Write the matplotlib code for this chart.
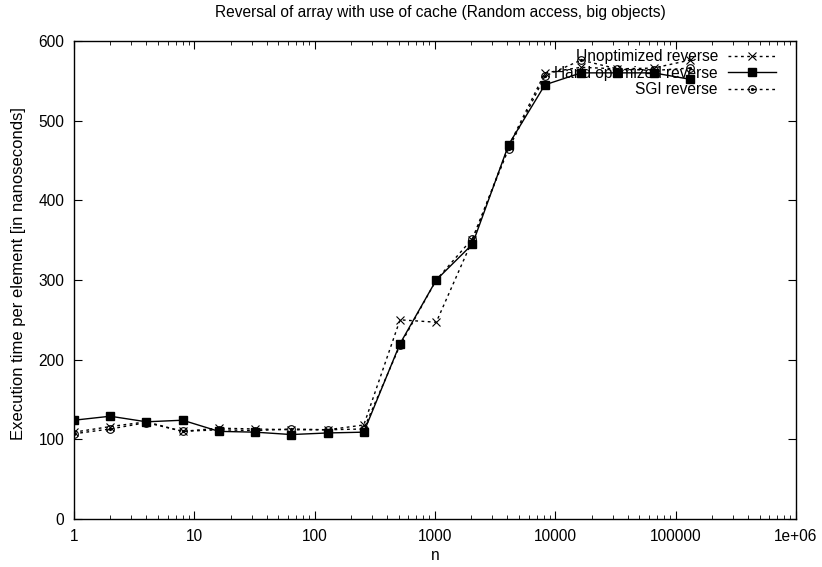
import numpy as np
import matplotlib
matplotlib.use('Agg')
from matplotlib import pyplot as plt
from matplotlib.ticker import LogLocator, NullFormatter, FixedLocator, MultipleLocator

plt.rcParams['font.family'] = ['Liberation Sans', 'DejaVu Sans']

n = [1, 2, 4, 8, 16, 32, 64, 128, 256, 512, 1024, 2048, 4096, 8192,
     16384, 32768, 65536, 131072]
unopt = [109, 116, 122, 110, 114, 113, 112, 112, 118, 250, 247, 350, 468, 560,
         567, 565, 566, 576]
hand = [124, 129, 122, 124, 110, 109, 106, 108, 109, 220, 300, 345, 470, 545,
        560, 560, 560, 552]
sgi = [107, 113, 121, 110, 112, 111, 113, 112, 113, 218, 300, 352, 465, 556,
       576, 565, 563, 566]

xticks = [1, 10, 100, 1000, 10000, 100000, 1000000]
xticklabels = ['1', '10', '100', '1000', '10000', '100000', '1e+06']

W, H = 822, 567
fig = plt.figure(figsize=(W / 100, H / 100), dpi=100)
# plot box in pixels: x 74..796, y 41..519
ax = fig.add_axes([74 / W, 1 - 519 / H, (796 - 74) / W, (519 - 41) / H])

fs = 11.2
dots = (0, (2, 2.5))
l1, = ax.plot(n, unopt, color='black', lw=1, ls=dots, marker='x', ms=5.5,
              mew=0.8)
l2, = ax.plot(n, hand, color='black', lw=1, ls='-', marker='s', ms=5.5)
l3, = ax.plot(n, sgi, color='black', lw=1, ls=dots, marker='o', ms=5.5,
              mfc='none', mew=0.8)
l3b, = ax.plot(n, sgi, color='black', lw=0, marker='o', ms=1.3)

ax.set_xscale('log')
ax.set_xlim(1, 1e6)
ax.set_ylim(0, 600)
ax.xaxis.set_major_locator(FixedLocator(xticks))
ax.set_xticklabels(xticklabels)
ax.xaxis.set_minor_locator(LogLocator(base=10, subs=np.arange(2, 10)))
ax.xaxis.set_minor_formatter(NullFormatter())
ax.yaxis.set_major_locator(MultipleLocator(100))
ax.tick_params(which='both', direction='in', top=True, right=True,
               labelsize=fs, color='black')
ax.tick_params(which='major', length=6, pad=7)
ax.tick_params(which='minor', length=3)
for s in ax.spines.values():
    s.set_linewidth(1)

fig.text(440 / W, 1 - 13 / H,
         'Reversal of array with use of cache (Random access, big objects)',
         fontsize=fs, ha='center', va='center')
fig.text(435 / W, 1 - 556 / H, 'n', fontsize=fs, ha='center', va='center')
fig.text(18.5 / W, 1 - 274 / H, 'Execution time per element [in nanoseconds]',
         fontsize=12, ha='center', va='center', rotation=90)

ax.legend([l1, l2, (l3, l3b)],
          ['Unoptimized reverse', 'Hand optimized reverse', 'SGI reverse'],
          loc='upper right', bbox_to_anchor=((776 - 74) / 722, (519 - 49) / 478),
          frameon=False, markerfirst=False, fontsize=fs, handlelength=3.1,
          handletextpad=0.63, labelspacing=0.1, borderpad=0, borderaxespad=0)

fig.savefig('out.png', dpi=100)
